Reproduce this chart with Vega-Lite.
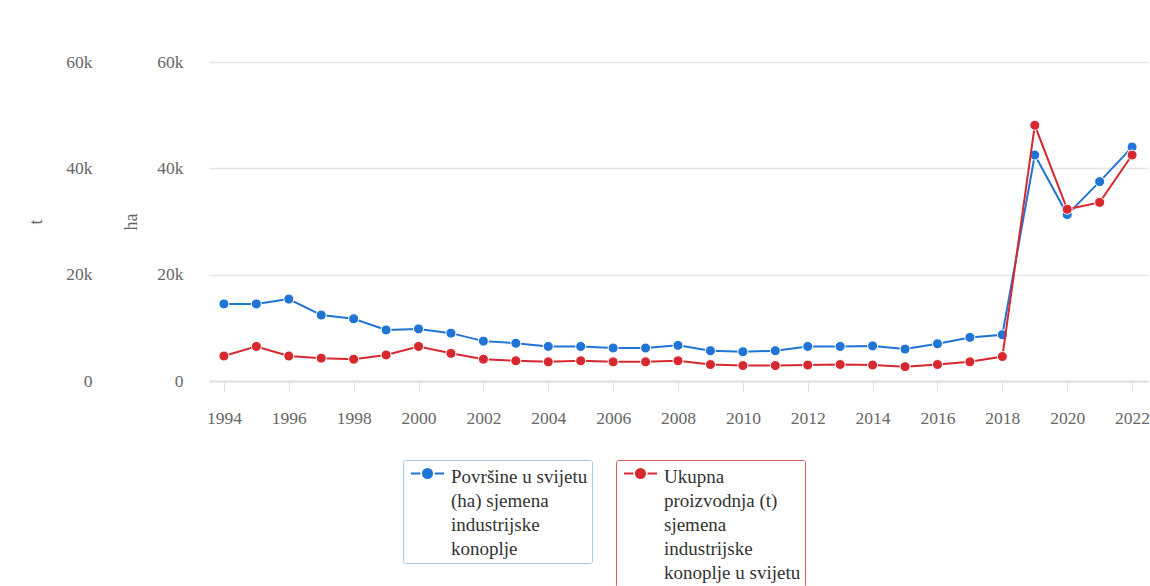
{
  "$schema": "https://vega.github.io/schema/vega-lite/v6.json",
  "autosize": "none",
  "width": 939,
  "height": 319,
  "padding": {"left": 209, "top": 62, "right": 2, "bottom": 205},
  "background": "white",
  "data": {
    "values": [
      {"year": 1994, "ha": 14500, "t": 4700},
      {"year": 1995, "ha": 14500, "t": 6500},
      {"year": 1996, "ha": 15400, "t": 4700},
      {"year": 1997, "ha": 12400, "t": 4300},
      {"year": 1998, "ha": 11700, "t": 4100},
      {"year": 1999, "ha": 9600, "t": 4900},
      {"year": 2000, "ha": 9800, "t": 6500},
      {"year": 2001, "ha": 9000, "t": 5200},
      {"year": 2002, "ha": 7500, "t": 4100},
      {"year": 2003, "ha": 7100, "t": 3800},
      {"year": 2004, "ha": 6500, "t": 3600},
      {"year": 2005, "ha": 6500, "t": 3800},
      {"year": 2006, "ha": 6200, "t": 3600},
      {"year": 2007, "ha": 6200, "t": 3600},
      {"year": 2008, "ha": 6700, "t": 3800},
      {"year": 2009, "ha": 5700, "t": 3100},
      {"year": 2010, "ha": 5500, "t": 2900},
      {"year": 2011, "ha": 5700, "t": 2900},
      {"year": 2012, "ha": 6500, "t": 3000},
      {"year": 2013, "ha": 6500, "t": 3100},
      {"year": 2014, "ha": 6600, "t": 3000},
      {"year": 2015, "ha": 6000, "t": 2700},
      {"year": 2016, "ha": 7000, "t": 3100},
      {"year": 2017, "ha": 8200, "t": 3600},
      {"year": 2018, "ha": 8700, "t": 4600},
      {"year": 2019, "ha": 42500, "t": 48100},
      {"year": 2020, "ha": 31300, "t": 32300},
      {"year": 2021, "ha": 37500, "t": 33600},
      {"year": 2022, "ha": 44000, "t": 42500}
    ]
  },
  "layer": [
    {
      "mark": {
        "type": "line",
        "strokeWidth": 2,
        "point": {"filled": true, "size": 100, "stroke": "white", "strokeWidth": 1}
      },
      "encoding": {
        "x": {
          "field": "year",
          "type": "quantitative",
          "scale": {"domain": [1993.54, 2022.49], "nice": false, "zero": false},
          "axis": {
            "title": null,
            "grid": false,
            "values": [1994, 1996, 1998, 2000, 2002, 2004, 2006, 2008, 2010, 2012, 2014, 2016, 2018, 2020, 2022],
            "format": "d",
            "domainColor": "#e0e0e0",
            "domainWidth": 2,
            "tickColor": "#e0e0e0",
            "tickSize": 10,
            "tickWidth": 1,
            "labelPadding": 18,
            "labelFont": "Liberation Serif",
            "labelFontSize": 17.5,
            "labelColor": "#666666"
          }
        },
        "y": {
          "field": "ha",
          "type": "quantitative",
          "scale": {"domain": [0, 60000], "nice": false},
          "axis": {
            "title": "ha",
            "orient": "left",
            "values": [0, 20000, 40000, 60000],
            "labelExpr": "datum.value == 0 ? '0' : (datum.value / 1000) + 'k'",
            "domain": false,
            "ticks": false,
            "tickSize": 0,
            "labelPadding": 26,
            "gridColor": "#e6e6e6",
            "gridWidth": 1.5,
            "labelFont": "Liberation Serif",
            "labelFontSize": 17.5,
            "labelColor": "#666666",
            "titleFont": "Liberation Serif",
            "titleFontSize": 18,
            "titleFontWeight": "normal",
            "titleColor": "#666666",
            "titlePadding": 16
          }
        },
        "color": {
          "datum": "Površine u svijetu (ha) sjemena industrijske konoplje",
          "type": "nominal",
          "scale": {"range": ["#1f74d6"]},
          "legend": {
            "title": null,
            "orient": "none",
            "legendX": 194,
            "legendY": 398,
            "labelExpr": "['Površine u svijetu', '(ha) sjemena', 'industrijske', 'konoplje']",
            "labelFont": "Liberation Serif",
            "labelFontSize": 19,
            "labelColor": "#333333",
            "labelBaseline": "top",
            "labelOffset": 14,
            "labelLimit": 400,
            "symbolType": "M-3,0H-1.3M1.3,0H3M0.82,0A0.82,0.82,0,1,1,-0.82,0A0.82,0.82,0,1,1,0.82,0Z",
            "symbolSize": 121,
            "symbolOffset": 11,
            "symbolStrokeWidth": 2,
            "strokeColor": "#a9c8ec",
            "padding": 4,
            "cornerRadius": 2,
            "encode": {
              "labels": {"update": {"lineHeight": {"value": 24}, "dy": {"value": -6}}},
              "symbols": {"update": {"fill": {"value": "#1f74d6"}, "stroke": {"value": "#1f74d6"}, "opacity": {"value": 1}}}
            }
          }
        }
      }
    },
    {
      "mark": {
        "type": "line",
        "strokeWidth": 2,
        "point": {"filled": true, "size": 100, "stroke": "white", "strokeWidth": 1}
      },
      "encoding": {
        "x": {"field": "year", "type": "quantitative"},
        "y": {
          "field": "t",
          "type": "quantitative",
          "scale": {"domain": [0, 60000], "nice": false},
          "axis": {
            "title": "t",
            "orient": "left",
            "offset": 91,
            "grid": false,
            "values": [0, 20000, 40000, 60000],
            "labelExpr": "datum.value == 0 ? '0' : (datum.value / 1000) + 'k'",
            "domain": false,
            "ticks": false,
            "tickSize": 0,
            "labelPadding": 26,
            "labelFont": "Liberation Serif",
            "labelFontSize": 17.5,
            "labelColor": "#666666",
            "titleFont": "Liberation Serif",
            "titleFontSize": 18,
            "titleFontWeight": "normal",
            "titleColor": "#666666",
            "titlePadding": 20
          }
        },
        "color": {
          "datum": "Ukupna proizvodnja (t) sjemena industrijske konoplje u svijetu",
          "type": "nominal",
          "scale": {"range": ["#d7282f"]},
          "legend": {
            "title": null,
            "orient": "none",
            "legendX": 407,
            "legendY": 398,
            "labelExpr": "['Ukupna', 'proizvodnja (t)', 'sjemena', 'industrijske', 'konoplje u svijetu']",
            "labelFont": "Liberation Serif",
            "labelFontSize": 19,
            "labelColor": "#333333",
            "labelBaseline": "top",
            "labelOffset": 14,
            "labelLimit": 400,
            "symbolType": "M-3,0H-1.3M1.3,0H3M0.82,0A0.82,0.82,0,1,1,-0.82,0A0.82,0.82,0,1,1,0.82,0Z",
            "symbolSize": 121,
            "symbolOffset": 11,
            "symbolStrokeWidth": 2,
            "strokeColor": "#d95a5f",
            "padding": 4,
            "cornerRadius": 2,
            "encode": {
              "labels": {"update": {"lineHeight": {"value": 24}, "dy": {"value": -6}}},
              "symbols": {"update": {"fill": {"value": "#d7282f"}, "stroke": {"value": "#d7282f"}, "opacity": {"value": 1}}}
            }
          }
        }
      }
    }
  ],
  "resolve": {"scale": {"y": "independent", "color": "independent"}, "legend": {"color": "independent"}},
  "config": {
    "view": {"stroke": null}
  }
}
